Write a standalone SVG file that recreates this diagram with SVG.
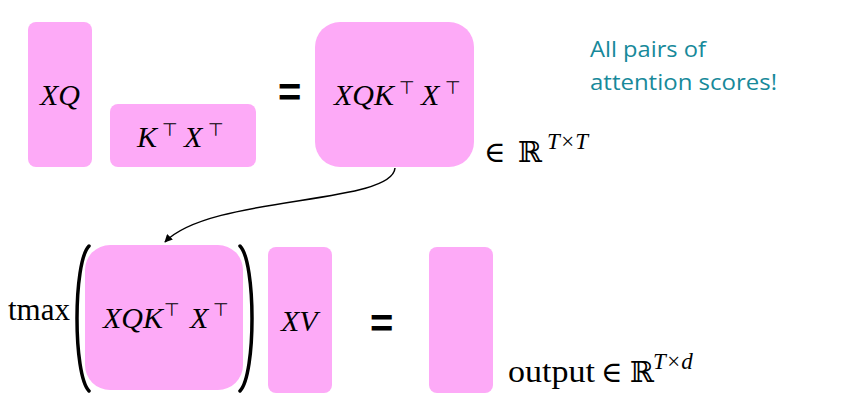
<svg xmlns="http://www.w3.org/2000/svg" width="846" height="420" viewBox="0 0 846 420">
<defs>
<style>
.box{fill:#FDAAF7;}
.m{font-family:"Liberation Serif","DejaVu Serif",serif;font-style:italic;font-size:30px;fill:#000;}
.t{font-family:"DejaVu Sans",sans-serif;font-size:18px;fill:#000;}
.r{font-family:"Liberation Serif","DejaVu Serif",serif;font-size:31px;fill:#000;}
.ds{font-family:"DejaVu Serif",serif;font-size:29px;fill:#000;}
.sup{font-family:"Liberation Serif","DejaVu Serif",serif;font-style:italic;font-size:23px;fill:#000;}
.eq{font-family:"Liberation Sans",Arial,sans-serif;font-weight:bold;font-size:40px;fill:#000;}
.note{font-family:"Open Sans","Liberation Sans",sans-serif;font-size:22px;fill:#17899A;}
.paren{fill:none;stroke:#000;stroke-width:3.5;stroke-linecap:round;}
.conn{fill:none;stroke:#000;stroke-width:1.5;}
</style>
<marker id="ah" viewBox="0 0 10 10" refX="9" refY="5" markerWidth="8" markerHeight="8" orient="auto" markerUnits="userSpaceOnUse">
<path d="M0,0 L10,5 L0,10 z" fill="#000"/>
</marker>
</defs>
<rect width="846" height="420" fill="#fff"/>

<g id="xq">
<rect class="box" x="28" y="22" width="64" height="145" rx="8"/>
<text class="m" x="40" y="105">XQ</text>
</g>

<g id="ktxt">
<rect class="box" x="110" y="104" width="146" height="63" rx="8"/>
<text class="m" x="137" y="147">K</text>
<text class="t" x="162" y="136">⊤</text>
<text class="m" x="184" y="147">X</text>
<text class="t" x="208" y="136">⊤</text>
</g>

<g id="eq1"><text class="eq" x="278" y="106">=</text></g>

<g id="scores">
<rect class="box" x="315" y="22" width="159" height="145" rx="25"/>
<text class="m" x="334" y="105">XQK</text>
<text class="t" x="399" y="94">⊤</text>
<text class="m" x="421" y="105">X</text>
<text class="t" x="445" y="94">⊤</text>
<text class="ds" x="484" y="162">∈</text>
<text class="ds" x="518" y="162">ℝ</text>
<text class="sup" x="547" y="149">T×T</text>
</g>

<g id="note">
<text class="note" x="590" y="57" textLength="116" lengthAdjust="spacingAndGlyphs">All pairs of</text>
<text class="note" x="590" y="90" textLength="187" lengthAdjust="spacingAndGlyphs">attention scores!</text>
</g>

<g id="softmax">
<text class="r" x="70" y="320" text-anchor="end">tmax</text>
<path class="paren" d="M89,246 C73,262 73,375 89,391"/>
<path class="paren" d="M240,246 C256,262 256,375 240,391"/>
<rect class="box" x="85" y="245" width="158" height="145" rx="25"/>
<text class="m" x="103" y="328">XQK</text>
<text class="t" x="164" y="316">⊤</text>
<text class="m" x="190" y="328">X</text>
<text class="t" x="213" y="316">⊤</text>
</g>

<g id="xv">
<rect class="box" x="268" y="247" width="64" height="146" rx="8"/>
<text class="m" x="281" y="331">XV</text>
</g>

<g id="eq2"><text class="eq" x="370" y="337">=</text></g>

<g id="output">
<rect class="box" x="429" y="247" width="64" height="146" rx="8"/>
<text class="r" x="508" y="382" textLength="87" lengthAdjust="spacingAndGlyphs">output</text>
<text class="ds" x="601" y="382">∈</text>
<text class="ds" x="630" y="382">ℝ</text>
<text class="sup" x="653" y="369">T×d</text>
</g>

<g id="connectors">
<path class="conn" d="M395,168 C392,205 210,195 165,242" marker-end="url(#ah)"/>
</g>
</svg>
